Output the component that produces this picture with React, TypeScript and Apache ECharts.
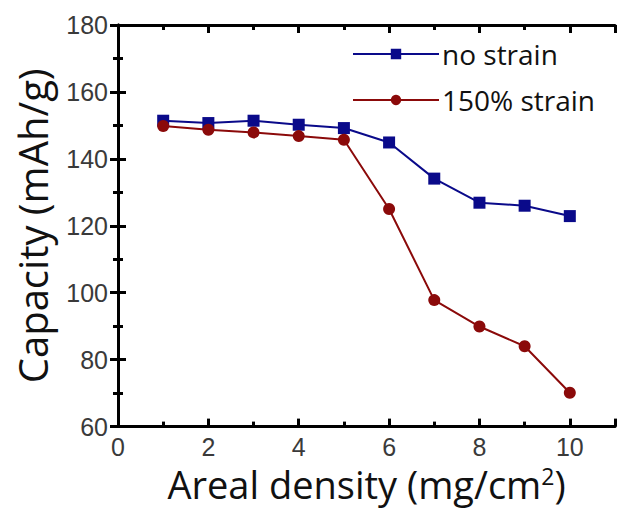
import React, { useEffect, useRef } from "react";
import * as echarts from "echarts";

const xValues = [1, 2, 3, 4, 5, 6, 7, 8, 9, 10];
const noStrain = [151.4, 150.7, 151.4, 150.2, 149.2, 144.9, 134.1, 126.9, 126.0, 122.9];
const strain150 = [149.8, 148.7, 147.9, 146.8, 145.7, 125.0, 97.8, 89.9, 84.0, 70.1];
const seriesNames = ["no strain", "150% strain"];
const xTitle = "Areal density (mg/cm{sup|2})";
const yTitle = "Capacity (mAh/g)";

export default function App() {
  const ref = useRef<HTMLDivElement>(null);
  useEffect(() => {
    if (!ref.current) return;
    const chart = echarts.init(ref.current, undefined, { renderer: "svg" });
    const axisLine = () => ({ show: true, lineStyle: { color: "#000", width: 3 } });
    const tick = () => ({ show: true, inside: true, length: 8, lineStyle: { color: "#000", width: 3 } });
    const minor = () => ({ show: true, splitNumber: 2, length: 5, lineStyle: { color: "#000", width: 3 } });
    const labelStyle = { color: "#3a3a3a", fontFamily: "Liberation Sans", fontSize: 25 };
    chart.setOption({
      animation: false,
      grid: { left: 118, right: 3, top: 25, bottom: 78 },
      legend: {
        orient: "vertical",
        left: 347,
        top: 32,
        itemWidth: 86,
        itemHeight: 13,
        itemGap: 12,
        data: seriesNames,
        textStyle: { fontFamily: "Open Sans", fontSize: 28, color: "#111", lineHeight: 34, padding: [0, 0, 0, -2] },
      },
      xAxis: [
        {
          type: "value",
          min: 0,
          max: 11,
          interval: 2,
          position: "bottom",
          axisLine: axisLine(),
          axisTick: tick(),
          minorTick: minor(),
          splitLine: { show: false },
          axisLabel: {
            ...labelStyle,
            margin: 8,
            formatter: (v: number) => (v > 10 ? "" : String(v)),
          },
          name: xTitle,
          nameLocation: "middle",
          nameGap: 33,
          nameTextStyle: {
            fontFamily: "Open Sans",
            fontSize: 38,
            color: "#111",
            rich: { sup: { fontFamily: "Open Sans", fontSize: 23, color: "#111", verticalAlign: "top", padding: [0, 0, 16, 0] } },
          },
        },
        {
          type: "value",
          min: 0,
          max: 11,
          interval: 2,
          position: "top",
          axisLine: axisLine(),
          axisTick: tick(),
          minorTick: minor(),
          splitLine: { show: false },
          axisLabel: { show: false },
        },
      ],
      yAxis: [
        {
          type: "value",
          min: 60,
          max: 180,
          interval: 20,
          position: "left",
          axisLine: axisLine(),
          axisTick: tick(),
          minorTick: minor(),
          splitLine: { show: false },
          axisLabel: { ...labelStyle, margin: 10 },
          name: yTitle,
          nameLocation: "middle",
          nameGap: 66,
          nameTextStyle: { fontFamily: "Open Sans", fontSize: 40, color: "#111" },
        },
        {
          type: "value",
          min: 60,
          max: 180,
          interval: 20,
          position: "right",
          axisLine: axisLine(),
          axisTick: tick(),
          minorTick: minor(),
          splitLine: { show: false },
          axisLabel: { show: false },
        },
      ],
      series: [
        {
          name: seriesNames[0],
          type: "line",
          data: xValues.map((x, i) => [x, noStrain[i]]),
          symbol: "rect",
          symbolSize: 12,
          itemStyle: { color: "#0a0a8a" },
          lineStyle: { color: "#0a0a8a", width: 2 },
        },
        {
          name: seriesNames[1],
          type: "line",
          data: xValues.map((x, i) => [x, strain150[i]]),
          symbol: "circle",
          symbolSize: 12,
          itemStyle: { color: "#8b0a0a" },
          lineStyle: { color: "#8b0a0a", width: 2 },
        },
      ],
    });
    return () => chart.dispose();
  }, []);
  return <div ref={ref} style={{ width: 618, height: 508, position: "absolute", left: 0, top: 0 }} />;
}
